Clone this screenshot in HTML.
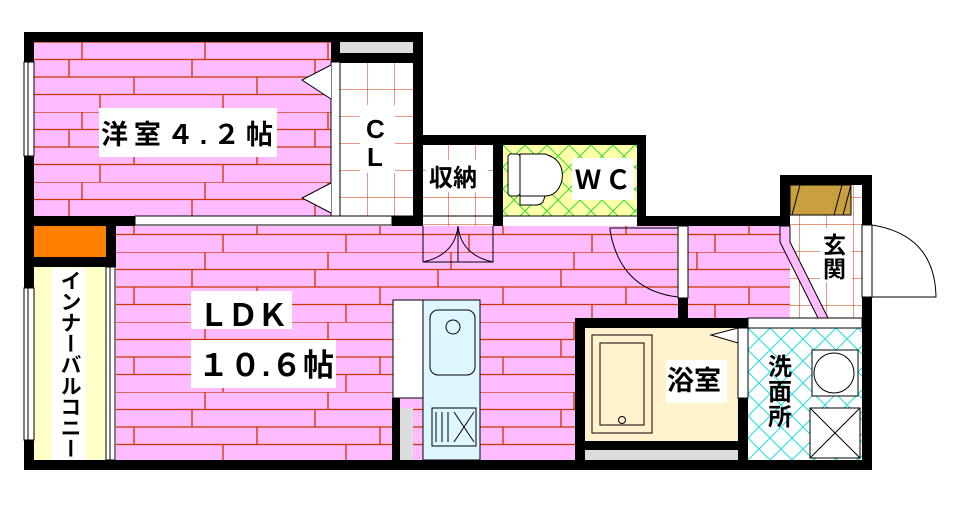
<!DOCTYPE html>
<html><head><meta charset="utf-8"><style>
html,body{margin:0;padding:0;background:#fff}
body{position:relative;width:956px;height:506px}
svg{display:block}
text{font-family:"Liberation Sans","Noto Sans CJK JP",sans-serif;font-weight:bold;fill:#000}
.vt{position:absolute;left:52px;top:268px;width:34px;height:192px;background:#fff;writing-mode:vertical-rl;font-family:"Liberation Sans","Noto Sans CJK JP",sans-serif;font-weight:bold;font-size:21px;line-height:34px;letter-spacing:0;white-space:nowrap;overflow:hidden;text-align:center}
</style></head><body>
<svg width="956" height="506" viewBox="0 0 956 506" xmlns="http://www.w3.org/2000/svg">
<defs>
<pattern id="wood" x="34" y="42" width="246" height="70" patternUnits="userSpaceOnUse">
<rect width="246" height="70" fill="#ffbbff"/>
<g stroke="#cc3300" stroke-width="1.3">
<line x1="0" y1="0" x2="246" y2="0"/><line x1="0" y1="17.5" x2="246" y2="17.5"/>
<line x1="0" y1="35" x2="246" y2="35"/><line x1="0" y1="52.5" x2="246" y2="52.5"/>
<line x1="48" y1="0" x2="48" y2="17.5"/><line x1="171" y1="0" x2="171" y2="17.5"/>
<line x1="35" y1="17.5" x2="35" y2="35"/><line x1="158" y1="17.5" x2="158" y2="35"/>
<line x1="100" y1="35" x2="100" y2="52.5"/><line x1="223" y1="35" x2="223" y2="52.5"/>
<line x1="66" y1="52.5" x2="66" y2="70"/><line x1="189" y1="52.5" x2="189" y2="70"/>
</g></pattern>
<pattern id="tile" x="340" y="62" width="27" height="27" patternUnits="userSpaceOnUse">
<rect width="27" height="27" fill="#fff"/>
<path d="M0 0H27M0 0V27" stroke="#cc3300" stroke-width="1"/></pattern>
<pattern id="wc" x="503" y="145" width="22" height="22" patternUnits="userSpaceOnUse">
<rect width="22" height="22" fill="#ffffaa"/>
<path d="M0 0L22 22M22 0L0 22" stroke="#33dd33" stroke-width="1"/></pattern>
<pattern id="wash" x="748" y="328" width="22" height="22" patternUnits="userSpaceOnUse">
<rect width="22" height="22" fill="#fff"/>
<path d="M0 0L22 22M22 0L0 22" stroke="#22dddd" stroke-width="1"/></pattern>
</defs>

<rect x="34" y="42" width="297" height="174" fill="url(#wood)"/>
<rect x="116" y="226" width="562" height="234" fill="url(#wood)"/>
<rect x="678" y="226" width="112" height="92" fill="url(#wood)"/>
<rect x="340" y="62" width="73" height="154" fill="url(#tile)"/>
<rect x="423" y="145" width="70" height="81" fill="url(#tile)"/>
<rect x="503" y="145" width="134" height="71" fill="url(#wc)"/>
<rect x="790" y="185" width="72" height="133" fill="url(#tile)"/>
<rect x="748" y="328" width="114" height="132" fill="url(#wash)"/>
<rect x="585" y="328" width="153" height="113" fill="#fff2cc"/>
<rect x="34" y="267" width="72" height="193" fill="#ffffc8"/>
<rect x="34" y="217" width="72" height="40" fill="#ff8000"/>
<rect x="790" y="185" width="61" height="30" fill="#c8a040" stroke="#000" stroke-width="1"/>
<path d="M800 185l-8 30M842 185l-8 30M851 185l-8 30" stroke="#000" stroke-width="1"/>
<rect x="423" y="300" width="57" height="160" fill="#ddf6ff" stroke="#000" stroke-width="1"/>
<rect x="393" y="300" width="30" height="98" fill="#fff" stroke="#000" stroke-width="1"/>
<rect x="340" y="42" width="73" height="11" fill="#ddd"/>
<rect x="585" y="450" width="153" height="10" fill="#ddd"/>
<rect x="400" y="408" width="13" height="52" fill="#ddd"/>

<path d="M780 226L790 226L790 242L828 318L818 318L780 242Z" fill="#ffbbff" stroke="#000" stroke-width="1"/>

<g fill="#000">
<rect x="24" y="32" width="10" height="438"/>
<rect x="24" y="32" width="399" height="10"/>
<rect x="331" y="42" width="9" height="20"/>
<rect x="340" y="53" width="73" height="10"/>
<rect x="413" y="32" width="10" height="194"/>
<rect x="413" y="135" width="233" height="10"/>
<rect x="493" y="135" width="10" height="91"/>
<rect x="637" y="135" width="9" height="91"/>
<rect x="637" y="216" width="153" height="10"/>
<rect x="780" y="175" width="92" height="10"/>
<rect x="780" y="175" width="10" height="51"/>
<rect x="862" y="175" width="10" height="295"/>
<rect x="24" y="460" width="848" height="10"/>
<rect x="34" y="216" width="101" height="10"/>
<rect x="392" y="216" width="31" height="10"/>
<rect x="106" y="216" width="10" height="51"/>
<rect x="34" y="257" width="82" height="10"/>
<rect x="392" y="398" width="8" height="62"/>
<rect x="575" y="318" width="173" height="10"/>
<rect x="575" y="318" width="10" height="142"/>
<rect x="585" y="441" width="153" height="9"/>
<rect x="738" y="398" width="10" height="62"/>
<rect x="678" y="298" width="10" height="20"/>
</g>
<g fill="#fff" stroke="#000" stroke-width="1">
<rect x="24" y="62" width="10" height="94"/>
<rect x="24" y="288" width="10" height="152"/>
<rect x="135" y="216" width="257" height="9"/>
<rect x="331" y="62" width="9" height="154"/>
<rect x="678" y="226" width="10" height="72"/>
<rect x="738" y="328" width="10" height="70"/>
<rect x="862" y="225" width="10" height="72"/>
<rect x="106" y="267" width="9" height="193"/>
<rect x="748" y="318" width="114" height="10"/>
</g>
<path d="M28 62V156M28 288V440M110 267V460M340 216H413M423 216H637" stroke="#000" stroke-width="1" fill="none"/>
<path d="M331 65L302 80L331 99M331 183L302 198L331 213" stroke="#000" fill="#fff" stroke-width="1"/>
<path d="M423 262H458V226M423 226V262M493 226V262H458M423 262Q455 255 458 226Q461 255 493 262" stroke="#000" fill="none" stroke-width="1"/>
<path d="M610 230V228H678M610 230Q620 290 678 297" stroke="#000" fill="none" stroke-width="1"/>
<path d="M872 225Q935 235 936 297H872" stroke="#000" fill="none" stroke-width="1"/>
<path d="M738 328L711 335L738 343Z" fill="#fff" stroke="#000" stroke-width="1"/>
<g stroke="#000" fill="#fff" stroke-width="1">
<rect x="508" y="154" width="12" height="42" rx="3"/>
<path d="M520 154H545Q565 160 562 180Q558 196 545 196H520Z"/>
<path d="M520 196H545L543 202Q540 205 536 205H520Z"/>
</g>
<rect x="592" y="335" width="60" height="98" fill="none" stroke="#000"/>
<rect x="600" y="343" width="44" height="82" fill="none" stroke="#000"/>
<circle cx="622" cy="420" r="3.5" fill="none" stroke="#000"/>
<rect x="430" y="310" width="45" height="65" rx="8" fill="none" stroke="#000"/>
<circle cx="453" cy="327" r="7" fill="none" stroke="#000"/>
<rect x="432" y="408" width="44" height="38" fill="none" stroke="#000"/>
<path d="M436 412V442M442 412V442M448 412V442M454 412L474 442M474 412L454 442" stroke="#000" stroke-width="1"/>
<rect x="812" y="350" width="46" height="46" fill="#fff" stroke="#000"/>
<circle cx="834" cy="373" r="20" fill="none" stroke="#000"/>
<rect x="810" y="408" width="50" height="50" fill="#fff" stroke="#000"/>
<path d="M810 408L860 458M860 408L810 458" stroke="#000" stroke-width="1"/>

<rect x="99" y="108" width="178" height="49" fill="#fff"/>
<text x="101" y="144" font-size="27" textLength="172">洋室４.２帖</text>
<rect x="360" y="105" width="35" height="68" fill="#fff"/>
<text x="366" y="138" font-size="26">C</text>
<text x="367" y="166" font-size="26">L</text>
<rect x="426" y="160" width="62" height="32" fill="#fff"/>
<text x="429" y="186" font-size="24">収納</text>
<rect x="572" y="158" width="62" height="42" fill="#fff"/>
<text x="575" y="189" font-size="26" textLength="56">ＷＣ</text>
<rect x="820" y="228" width="32" height="54" fill="#fff"/>
<text x="823" y="253" font-size="23">玄</text>
<text x="823" y="277" font-size="23">関</text>
<rect x="191" y="291" width="101" height="38" fill="#fff"/>
<text x="198" y="326" font-size="31" textLength="90">ＬＤＫ</text>
<rect x="191" y="340" width="145" height="48" fill="#fff"/>
<text x="198" y="376" font-size="31" textLength="136">１０.６帖</text>
<rect x="666" y="360" width="61" height="43" fill="#fff"/>
<text x="667" y="390" font-size="27">浴室</text>
<text x="768" y="375" font-size="24">洗</text>
<text x="768" y="400" font-size="24">面</text>
<text x="768" y="425" font-size="24">所</text>
</svg>
<div class="vt">インナーバルコニー</div>
</body></html>
